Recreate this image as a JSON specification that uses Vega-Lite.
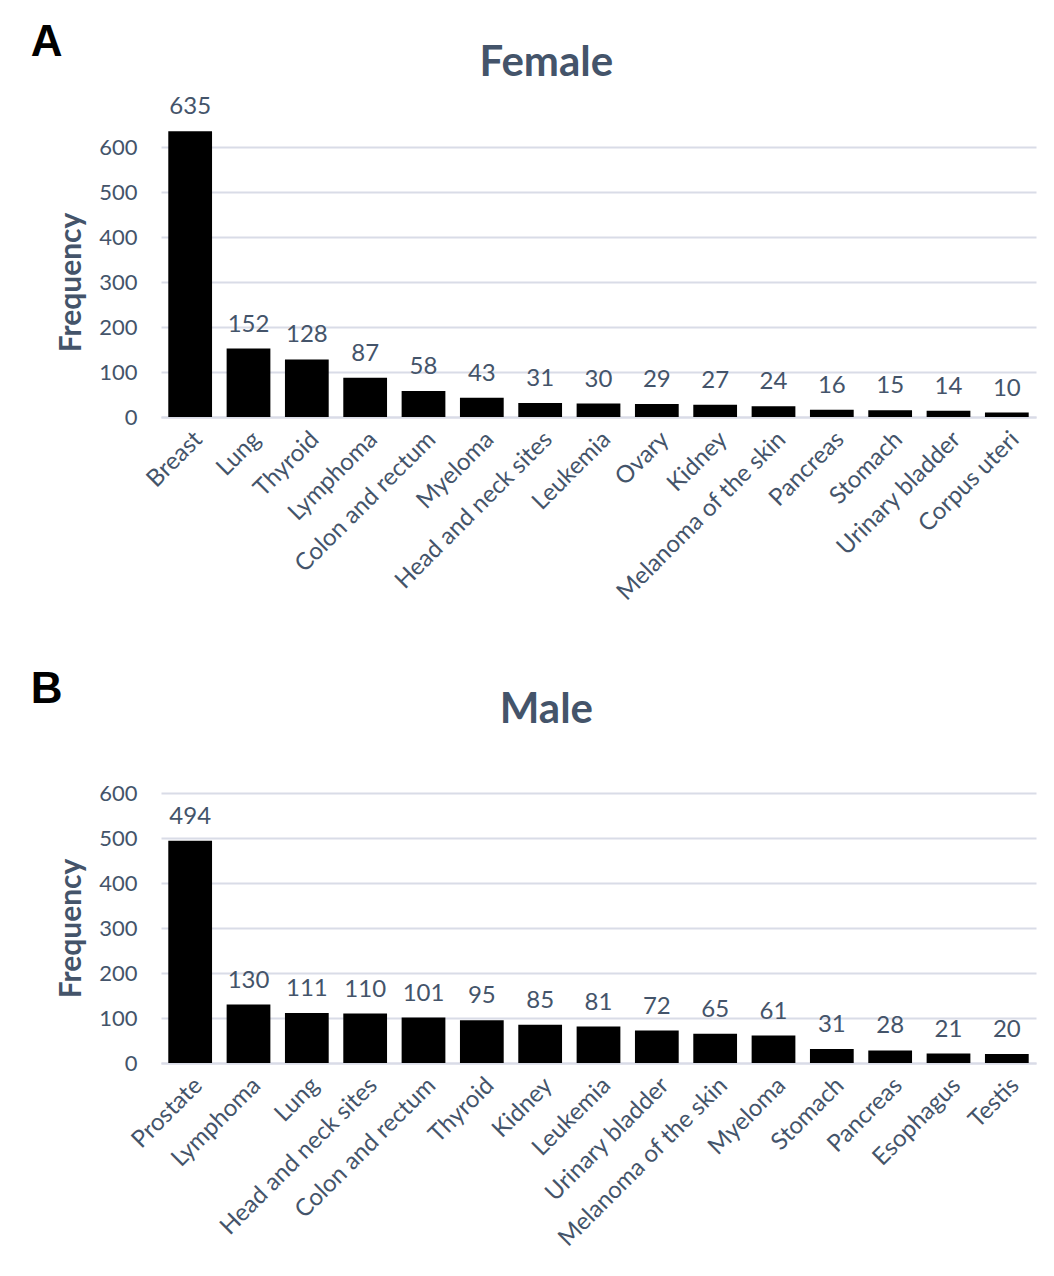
{
  "$schema": "https://vega.github.io/schema/vega-lite/v6.json",
  "padding": {"left": 30, "top": 21, "right": 19, "bottom": 6},
  "background": "white",
  "datasets": {
    "female": [
      {"site": "Breast", "n": 635},
      {"site": "Lung", "n": 152},
      {"site": "Thyroid", "n": 128},
      {"site": "Lymphoma", "n": 87},
      {"site": "Colon and rectum", "n": 58},
      {"site": "Myeloma", "n": 43},
      {"site": "Head and neck sites", "n": 31},
      {"site": "Leukemia", "n": 30},
      {"site": "Ovary", "n": 29},
      {"site": "Kidney", "n": 27},
      {"site": "Melanoma of the skin", "n": 24},
      {"site": "Pancreas", "n": 16},
      {"site": "Stomach", "n": 15},
      {"site": "Urinary bladder", "n": 14},
      {"site": "Corpus uteri", "n": 10}
    ],
    "male": [
      {"site": "Prostate", "n": 494},
      {"site": "Lymphoma", "n": 130},
      {"site": "Lung", "n": 111},
      {"site": "Head and neck sites", "n": 110},
      {"site": "Colon and rectum", "n": 101},
      {"site": "Thyroid", "n": 95},
      {"site": "Kidney", "n": 85},
      {"site": "Leukemia", "n": 81},
      {"site": "Urinary bladder", "n": 72},
      {"site": "Melanoma of the skin", "n": 65},
      {"site": "Myeloma", "n": 61},
      {"site": "Stomach", "n": 31},
      {"site": "Pancreas", "n": 28},
      {"site": "Esophagus", "n": 21},
      {"site": "Testis", "n": 20}
    ]
  },
  "config": {
    "view": {"stroke": null},
    "font": "Lato",
    "axis": {
      "labelFont": "Lato",
      "labelFontSize": 22,
      "labelColor": "#44546A",
      "labelLimit": 0,
      "titleFont": "Lato",
      "titleColor": "#44546A",
      "ticks": false
    },
    "axisY": {
      "domain": false,
      "gridColor": "#D9DCE7",
      "gridWidth": 2,
      "labelPadding": 24,
      "titleFontSize": 30,
      "titleFontWeight": "bold",
      "titlePadding": 12
    },
    "axisX": {
      "domainColor": "#D9DCE7",
      "domainWidth": 2,
      "labelAngle": -45,
      "labelFontSize": 24,
      "labelPadding": 10,
      "grid": false
    },
    "concat": {"spacing": 63}
  },
  "vconcat": [
    {
      "title": {"text": "A", "anchor": "start", "font": "Liberation Sans", "fontSize": 44, "fontWeight": "bold", "color": "black", "offset": -23, "dx": -26},
      "vconcat": [
        {
          "title": {"text": "Female", "font": "Lato", "fontSize": 42, "fontWeight": "bold", "color": "#44546A", "anchor": "middle", "frame": "bounds", "offset": 10},
          "width": 875,
          "height": 270,
          "data": {"name": "female"},
          "encoding": {
            "x": {"field": "site", "type": "nominal", "sort": null, "title": null,
                  "scale": {"paddingInner": 0.25, "paddingOuter": 0.125}},
            "y": {"field": "n", "type": "quantitative", "title": "Frequency",
                  "scale": {"domain": [0, 600], "nice": false},
                  "axis": {"values": [0, 100, 200, 300, 400, 500, 600]}}
          },
          "layer": [
            {"mark": {"type": "bar", "color": "black"}},
            {"mark": {"type": "text", "baseline": "alphabetic", "dy": -17, "fontSize": 24, "font": "Lato", "color": "#44546A"},
             "encoding": {"text": {"field": "n", "type": "quantitative"}}}
          ]
        }
      ]
    },
    {
      "title": {"text": "B", "anchor": "start", "font": "Liberation Sans", "fontSize": 44, "fontWeight": "bold", "color": "black", "offset": -23, "dx": -26},
      "vconcat": [
        {
          "title": {"text": "Male", "font": "Lato", "fontSize": 42, "fontWeight": "bold", "color": "#44546A", "anchor": "middle", "frame": "bounds", "offset": 50},
          "width": 875,
          "height": 270,
          "data": {"name": "male"},
          "encoding": {
            "x": {"field": "site", "type": "nominal", "sort": null, "title": null,
                  "scale": {"paddingInner": 0.25, "paddingOuter": 0.125}},
            "y": {"field": "n", "type": "quantitative", "title": "Frequency",
                  "scale": {"domain": [0, 600], "nice": false},
                  "axis": {"values": [0, 100, 200, 300, 400, 500, 600]}}
          },
          "layer": [
            {"mark": {"type": "bar", "color": "black"}},
            {"mark": {"type": "text", "baseline": "alphabetic", "dy": -17, "fontSize": 24, "font": "Lato", "color": "#44546A"},
             "encoding": {"text": {"field": "n", "type": "quantitative"}}}
          ]
        }
      ]
    }
  ]
}
